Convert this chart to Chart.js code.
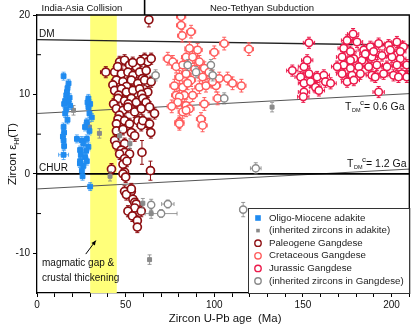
<!DOCTYPE html>
<html><head><meta charset="utf-8">
<script src="https://cdn.jsdelivr.net/npm/chart.js@4.4.1/dist/chart.umd.min.js"></script>
<style>html,body{margin:0;padding:0;background:#fff}#wrap{width:415px;height:333px;position:relative}</style>
</head><body><div id="wrap"><canvas id="c"></canvas></div>
<script>
// Zircon U-Pb age (Ma) vs. zircon epsilon-Hf(T); each point: [age, eHf, ageErr?, eHfErr?]
const adakite = [
  [15.0,12.3],[17.8,11.4],[17.2,10.8],[16.9,10.3],[16.5,9.9],[18.4,9.6],[15.9,9.2],[17.8,9.0],[15.3,8.8],
  [18.7,8.6],[16.5,8.1],[15.9,7.6],[17.2,6.8],[15.0,5.9],[15.3,5.2],[14.6,4.7],[15.0,4.2],[15.3,3.5],[15.0,2.4,2.8,0.6],
  [29.0,9.5],[30.0,8.8],[28.5,9.0],[29.0,8.4],[29.6,7.6],[30.9,7.1],[28.1,6.5],[27.1,5.9],[29.6,5.4],[22.5,4.4],
  [25.3,4.2],[28.1,4.4],[26.2,3.8],[29.0,3.4],[24.3,3.0],[27.7,2.9],[24.7,2.4],[27.1,2.1],[24.3,1.6],[28.1,1.6],
  [26.2,1.0],[25.3,0.4],[25.7,-0.3],[30.0,-1.6],[24.2,1.3]
];
const adakiteInherited = [
  [20.6,8.0],[29.6,5.9],[35.2,5.1],[41.2,-0.3],[46.6,4.8],[52.4,3.8],[59.7,-3.7],[64.4,-5.0],[63.5,-10.8],[132.6,8.4]
];
const paleogene = [
  [63.1,19.4,1.2,0.9],[38.8,12.8,3.0,0.7],
  [46.6,14.1],[49.4,14.3],[52.2,13.7],[56.0,13.5],[60.7,14.5],[62.5,14.1],[64.4,14.5],[58.5,14.2],[54.0,14.0],
  [43.8,12.8],[47.6,12.6],[51.3,12.8],[54.1,12.4],[57.9,12.8],[61.6,13.0],[45.5,13.5],[59.5,12.0],
  [44.8,11.8],[48.5,11.6],[53.2,11.8],[56.9,11.4],[60.7,11.8],[64.4,11.6],[50.5,11.0],[42.8,11.2],
  [43.8,10.5],[47.6,10.7],[50.4,10.3],[54.1,10.5],[57.9,10.7],[62.5,10.3],[46.0,9.9],[59.0,10.0],
  [45.7,9.5],[49.4,9.2],[53.2,9.5],[56.0,9.0],[59.7,9.5],[43.2,8.8],[51.5,8.8],[61.5,9.0],
  [44.8,8.2],[48.5,8.0],[51.3,8.4],[55.1,7.8],[58.8,8.2],[63.5,8.4],[66.3,7.6],[46.5,7.4],
  [45.7,6.9],[49.4,6.7],[52.2,6.3],[56.9,6.7],[62.5,6.3],[44.8,6.3],[58.8,6.1],[59.7,6.7],[63.5,6.3],
  [44.8,5.4],[48.5,5.6],[53.2,5.2],[55.1,4.8],[64.2,5.2],[43.8,4.2],
  [44.8,3.6],[49.4,3.8],[47.6,3.0],[49.4,2.7],[52.2,2.5],[59.2,2.7,1.2,1.5],[46.6,2.5],
  [49.4,1.9],[48.5,1.2],[50.7,1.6],[42.0,0.6,2.0,0.7],[49.4,0.2],[48.5,0.0],[50.0,-0.4],[64.0,0.4,1.2,1.2],
  [49.4,-2.2],[53.2,-2.2],[50.4,-2.6],[53.2,-1.9],[54.1,-3.2],[55.1,-3.6],[56.0,-3.8],[55.1,-4.3],
  [51.3,-4.7],[53.8,-5.3],[58.8,-4.7],[56.6,-5.9],[56.6,-6.7]
];
const cretaceous = [
  [81.3,19.8],[81.3,18.7],[86.9,17.9],[81.9,17.4],[105.6,16.4],[119.5,15.7],[73.8,14.5],[76.6,14.1],[86.0,15.8],
  [90.6,15.6],[100.0,15.3],[84.1,14.7],[87.8,14.7],[78.5,13.5],[82.2,13.7],[91.6,14.1],[94.4,13.3],[80.3,12.2],
  [84.1,12.6],[86.9,11.8],[93.4,12.2],[102.8,12.0],[107.5,12.0],[110.3,11.4],[115.3,11.1],[77.5,11.1],[82.2,10.9],
  [85.0,11.4],[91.6,10.9],[95.3,11.1],[101.0,11.1],[99.0,11.6],[78.5,9.9],[83.1,9.9],[87.8,9.9],[80.3,9.7],
  [79.4,9.0],[84.1,8.6],[94.4,8.8],[101.9,9.5],[82.2,7.8],[86.0,8.2],[84.1,8.0],[92.5,6.9],[80.3,6.5],
  [93.4,6.1],[80.3,6.3],[76.0,8.5],[97.0,12.8],[89.0,13.2]
];
const jurassic = [
  [153.4,16.5],[144.0,13.0],[150.6,13.5],[152.4,14.3],[153.4,12.6],[148.7,12.2],[150.6,11.4],[154.3,11.6],
  [158.0,12.2],[161.8,12.4],[157.1,10.9],[162.7,11.6],[165.6,11.4],[150.6,10.3],[159.0,10.5],[150.2,9.7],
  [192.7,10.3],[178.3,17.6],[174.9,16.8],[180.5,16.6],[173.0,15.8],[176.8,15.4],[184.3,15.6],[188.0,16.0],
  [192.7,16.4],[198.3,16.2],[203.0,16.6],[206.7,16.0],[172.1,14.7],[178.7,14.5,8.0,0.7],[183.3,14.3],[188.9,14.7],
  [194.6,14.9],[200.2,14.7],[204.9,14.5],[173.0,13.7],[176.8,13.3],[181.5,13.5],[187.1,13.5],[191.7,13.7],
  [197.4,13.5],[203.0,13.7],[208.6,13.7],[172.1,12.6],[177.7,12.4],[182.4,12.6],[188.9,12.4],[195.5,12.6],
  [201.1,12.4],[205.8,12.6],[174.9,11.6],[178.7,11.8],[190.8,12.2],[203.9,12.2],[176.8,14.3],[169.3,13.5],
  [185.2,15.1],[189.9,15.4],[199.3,15.6],[204.9,15.4],[208.6,12.2]
];
const gangdeseInherited = [
  [66.9,12.4],[85.0,13.7],[89.7,12.8],[98.1,13.7],[99.1,12.4],[105.6,9.5],[123.4,0.7,3.0,0.7],
  [64.4,-3.9,1.5,0.7],[73.8,-3.8,3.5,0.5],[70.0,-5.0,9.0,0.5],[116.3,-4.5,2.0,0.9]
];
// default 1-sigma errors [age, eHf] per series
const defaultErr = {
  adakite: [0.7, 0.5], adakiteInherited: [0.8, 0.6], paleogene: [1.2, 0.7],
  cretaceous: [2.6, 0.8], jurassic: [3.2, 0.7], gangdeseInherited: [2.0, 0.7]
};
// reference evolution lines: [age, eHf] end points
const lineDM = [[0, 16.9], [210, 16.2]];
const lineTdm06 = [[0, 7.6], [210, 10.1]];
const lineCHUR = [[0, 0], [210, 0]];
const lineTdm12 = [[0, -1.9], [210, 0.6]];
const collisionAge = 60.7;          // boundary between the two tectonic stages
const gapRange = [30, 45];          // magmatic gap
const xTicksLabelled = [0, 50, 100, 150, 200];
const yTicksLabelled = [-10, 0, 10, 20];

const FONT = "'Liberation Sans', Arial, sans-serif";
const C = {
  blue: '#1f8bf0', grey: '#8a8a8a', paleo: '#8e0f12', creta: '#ff5c5c', jura: '#ec1a4b'
};

function toPts(arr, key) {
  const d = defaultErr[key];
  return arr.map(p => ({ x: p[0], y: p[1], xe: p[2] ?? d[0], ye: p[3] ?? d[1] }));
}
function toLine(arr) { return arr.map(p => ({ x: p[0], y: p[1] })); }

const pointSets = [
  { key: 'adakite', label: 'Oligo-Miocene adakite', data: adakite, color: C.blue, style: 'rect', r: 3.4, bw: 1, fill: C.blue, errColor: 'rgba(31,139,240,0.7)' },
  { key: 'adakiteInherited', label: '(inherited zircons in adakite)', data: adakiteInherited, color: C.grey, style: 'rect', r: 2.8, bw: 1, fill: C.grey, errColor: 'rgba(130,130,130,0.8)' },
  { key: 'paleogene', label: 'Paleogene Gangdese', data: paleogene, color: C.paleo, style: 'circle', r: 4, bw: 1.7, fill: '#fff', errColor: C.paleo },
  { key: 'cretaceous', label: 'Cretaceous Gangdese', data: cretaceous, color: C.creta, style: 'circle', r: 3.8, bw: 1.5, fill: '#fff', errColor: C.creta },
  { key: 'jurassic', label: 'Jurassic Gangdese', data: jurassic, color: C.jura, style: 'circle', r: 3.8, bw: 1.6, fill: '#fff', errColor: C.jura },
  { key: 'gangdeseInherited', label: '(inherited zircons in Gangdese)', data: gangdeseInherited, color: C.grey, style: 'circle', r: 3.6, bw: 1.4, fill: '#fff', errColor: 'rgba(130,130,130,0.8)' }
];

const datasets = [];
// point series: lower order is drawn on top
const drawOrder = { adakite: 1, adakiteInherited: 2, gangdeseInherited: 3, paleogene: 4, cretaceous: 5, jurassic: 6 };
pointSets.forEach(s => {
  datasets.push({
    type: 'scatter', label: s.label, data: toPts(s.data, s.key), order: drawOrder[s.key],
    pointStyle: s.style, pointRadius: s.r, pointHoverRadius: s.r, borderWidth: s.bw,
    borderColor: s.color, backgroundColor: s.fill, errColor: s.errColor, hasErr: true
  });
});
[[lineDM, '#222', 1.4], [lineTdm06, '#555', 1], [lineCHUR, '#000', 1.8], [lineTdm12, '#555', 1]].forEach(([l, col, w]) => {
  datasets.push({ type: 'line', data: toLine(l), borderColor: col, borderWidth: w, pointRadius: 0, fill: false, order: 10, label: '' });
});

const decor = {
  id: 'decor',
  beforeDatasetsDraw(chart) {
    const { ctx, chartArea: a, scales: { x } } = chart;
    ctx.save();
    ctx.fillStyle = '#ffff7a';
    const x0 = x.getPixelForValue(gapRange[0]), x1 = x.getPixelForValue(gapRange[1]);
    ctx.fillRect(x0, a.top, x1 - x0, a.bottom - a.top);
    ctx.restore();
  },
  beforeDatasetDraw(chart, args) {
    const ds = chart.data.datasets[args.index];
    if (!ds.hasErr) return;
    const { ctx, chartArea: a, scales: { x, y } } = chart;
    ctx.save();
    ctx.beginPath(); ctx.rect(a.left, a.top, a.right - a.left, a.bottom - a.top); ctx.clip();
    ctx.strokeStyle = ds.errColor; ctx.lineWidth = 1;
    ds.data.forEach(p => {
      const px = x.getPixelForValue(p.x), py = y.getPixelForValue(p.y);
      const xl = x.getPixelForValue(p.x - p.xe), xr = x.getPixelForValue(p.x + p.xe);
      const yt = y.getPixelForValue(p.y + p.ye), yb = y.getPixelForValue(p.y - p.ye);
      ctx.beginPath();
      ctx.moveTo(xl, py); ctx.lineTo(xr, py);
      ctx.moveTo(xl, py - 2); ctx.lineTo(xl, py + 2);
      ctx.moveTo(xr, py - 2); ctx.lineTo(xr, py + 2);
      ctx.moveTo(px, yt); ctx.lineTo(px, yb);
      ctx.moveTo(px - 2, yt); ctx.lineTo(px + 2, yt);
      ctx.moveTo(px - 2, yb); ctx.lineTo(px + 2, yb);
      ctx.stroke();
    });
    ctx.restore();
  },
  afterDraw(chart) {
    const { ctx, chartArea: a, scales: { x, y } } = chart;
    ctx.save();
    // frame: top and right edges
    ctx.strokeStyle = '#000'; ctx.lineWidth = 1.3;
    ctx.beginPath();
    ctx.moveTo(a.left, a.top); ctx.lineTo(a.right, a.top); ctx.lineTo(a.right, a.bottom);
    ctx.stroke();
    // inward minor ticks on the y axis
    ctx.lineWidth = 1;
    [15, 5, -5].forEach(v => {
      const py = y.getPixelForValue(v);
      ctx.beginPath(); ctx.moveTo(a.left, py); ctx.lineTo(a.left + 4, py); ctx.stroke();
    });
    // stage divider above the plot
    const cx = x.getPixelForValue(collisionAge);
    ctx.lineWidth = 1.6;
    ctx.beginPath(); ctx.moveTo(cx, 0); ctx.lineTo(cx, a.top); ctx.stroke();
    ctx.fillStyle = '#111'; ctx.textBaseline = 'middle'; ctx.textAlign = 'center';
    ctx.font = `9.5px ${FONT}`;
    ctx.fillText('India-Asia Collision', 82, 8);
    ctx.fillText('Neo-Tethyan Subduction', 262, 8);

    // evolution line labels
    ctx.textAlign = 'left'; ctx.textBaseline = 'alphabetic';
    ctx.font = `10px ${FONT}`;
    ctx.fillText('DM', 39, y.getPixelForValue(16.9) - 3);
    ctx.fillText('CHUR', 39, y.getPixelForValue(0) - 3);
    const tdm = (txt, bx, by) => {
      ctx.font = `10.5px ${FONT}`; ctx.fillText('T', bx, by);
      ctx.font = `5.5px ${FONT}`; ctx.fillText('DM', bx + 7, by + 2);
      ctx.font = `8px ${FONT}`; ctx.fillText('c', bx + 15, by - 5);
      ctx.font = `10.5px ${FONT}`; ctx.fillText('= ' + txt, bx + 19, by);
    };
    tdm('0.6 Ga', 345, 110);
    tdm('1.2 Ga', 347, 167);

    // magmatic gap note and arrow
    ctx.font = `10px ${FONT}`;
    ctx.fillText('magmatic gap &', 42, 266);
    ctx.fillText('crustal thickening', 42, 281);
    const ax0 = x.getPixelForValue(27.5), ay0 = y.getPixelForValue(-10.1);
    const ax1 = x.getPixelForValue(33.2), ay1 = y.getPixelForValue(-8.4);
    ctx.strokeStyle = '#000'; ctx.lineWidth = 1;
    ctx.beginPath(); ctx.moveTo(ax0, ay0); ctx.lineTo(ax1, ay1); ctx.stroke();
    const ang = Math.atan2(ay1 - ay0, ax1 - ax0);
    ctx.beginPath();
    ctx.moveTo(ax1, ay1);
    ctx.lineTo(ax1 - 5 * Math.cos(ang - 0.45), ay1 - 5 * Math.sin(ang - 0.45));
    ctx.lineTo(ax1 - 5 * Math.cos(ang + 0.45), ay1 - 5 * Math.sin(ang + 0.45));
    ctx.closePath(); ctx.fillStyle = '#000'; ctx.fill();

    // legend
    const lx0 = 248, ly0 = 208;
    ctx.fillStyle = '#fff'; ctx.fillRect(lx0, ly0, a.right - lx0, a.bottom - ly0);
    ctx.strokeStyle = '#333'; ctx.lineWidth = 1;
    ctx.strokeRect(lx0 + 0.5, ly0 + 0.5, a.right - lx0, a.bottom - ly0);
    ctx.font = `9.7px ${FONT}`; ctx.textBaseline = 'middle';
    pointSets.forEach((s, i) => {
      const ry = 218 + i * 12.6, mx = 258;
      if (s.style === 'rect') {
        const h = s.key === 'adakite' ? 2.8 : 1.8;
        ctx.fillStyle = s.color; ctx.fillRect(mx - h, ry - h, 2 * h, 2 * h);
      } else {
        ctx.beginPath(); ctx.arc(mx, ry, 3.2, 0, Math.PI * 2);
        ctx.fillStyle = '#fff'; ctx.fill();
        ctx.strokeStyle = s.color; ctx.lineWidth = 1.4; ctx.stroke();
      }
      ctx.fillStyle = '#222'; ctx.fillText(s.label, 269, ry);
    });

    // axis titles
    ctx.fillStyle = '#111'; ctx.textAlign = 'center'; ctx.textBaseline = 'alphabetic';
    ctx.font = `11.4px ${FONT}`;
    ctx.fillText('Zircon U-Pb age  (Ma)', (a.left + a.right) / 2 + 2, 322);
    ctx.save();
    ctx.translate(16, (a.top + a.bottom) / 2);
    ctx.rotate(-Math.PI / 2);
    const segs = [['Zircon \u03b5', 11.5, 0], ['Hf', 7, 3], ['(T)', 11.5, 0]];
    let tw = 0;
    segs.forEach(sg => { ctx.font = `${sg[1]}px ${FONT}`; sg.w = ctx.measureText(sg[0]).width; tw += sg.w; });
    let sx = -tw / 2;
    ctx.textAlign = 'left';
    segs.forEach(sg => { ctx.font = `${sg[1]}px ${FONT}`; ctx.fillText(sg[0], sx, sg[2]); sx += sg.w; });
    ctx.restore();
    ctx.restore();
  }
};

new Chart(document.getElementById('c'), {
  type: 'scatter',
  data: { datasets },
  options: {
    responsive: true, maintainAspectRatio: false, animation: false,
    layout: { padding: { top: 15, right: 4, left: 0, bottom: 0 } },
    plugins: { legend: { display: false }, tooltip: { enabled: false } },
    scales: {
      x: {
        type: 'linear', min: 0, max: 210,
        ticks: {
          stepSize: 10, autoSkip: false, maxRotation: 0, padding: 2,
          color: '#111', font: { family: FONT, size: 10 },
          callback: v => xTicksLabelled.includes(v) ? String(v) : ''
        },
        grid: { drawOnChartArea: false, drawTicks: true, tickLength: 4, tickColor: '#000', tickWidth: 1 },
        border: { display: true, color: '#000', width: 1.3 },
        afterFit: s => { s.height = 40; }
      },
      y: {
        type: 'linear', min: -15, max: 20,
        ticks: {
          stepSize: 5, autoSkip: false, padding: 3,
          color: '#111', font: { family: FONT, size: 10 },
          callback: v => yTicksLabelled.includes(v) ? String(v) : ''
        },
        grid: {
          drawOnChartArea: false, drawTicks: true, tickLength: 4, tickWidth: 1,
          tickColor: c => (c.tick && c.tick.value % 10 === 0) ? '#000' : 'rgba(0,0,0,0)'
        },
        border: { display: true, color: '#000', width: 1.3 },
        afterFit: s => { s.width = 37; }
      }
    }
  },
  plugins: [decor]
});
</script></body></html>
